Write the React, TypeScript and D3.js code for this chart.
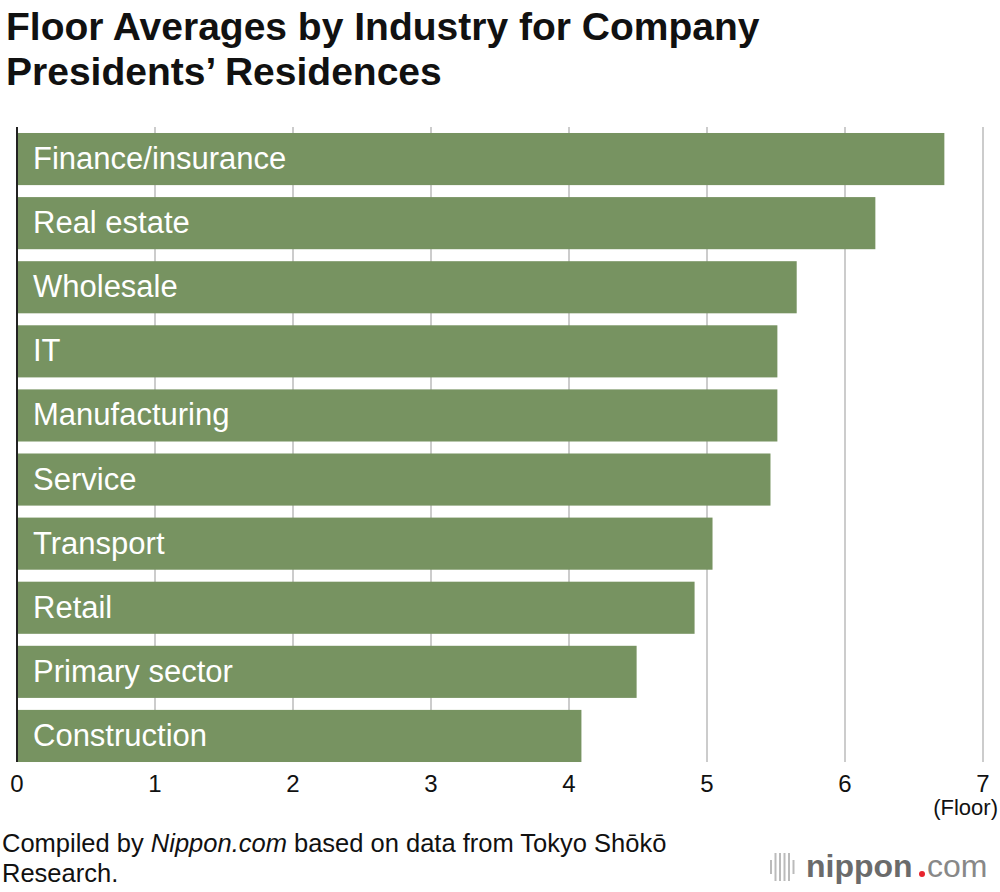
import React from "react";
import * as d3 from "d3";

const industries = ["Finance/insurance", "Real estate", "Wholesale", "IT", "Manufacturing", "Service", "Transport", "Retail", "Primary sector", "Construction"];
const floors = [6.72, 6.22, 5.65, 5.51, 5.51, 5.46, 5.04, 4.91, 4.49, 4.09];
const ticks = [0, 1, 2, 3, 4, 5, 6, 7];

const W = 1000, H = 892;
const FONT = "Liberation Sans, Arial, sans-serif";

export default function App() {
  const x = d3.scaleLinear().domain([0, 7]).range([17, 983]);
  const y = d3.scaleBand().domain(industries).range([127, 768]).paddingInner(0.187).paddingOuter(0.0935);
  const bottom = 762;
  return (
    <svg width={W} height={H} style={{ position: "absolute", left: 0, top: 0 }} fontFamily={FONT}>
      <rect width={W} height={H} fill="#fff" />
      <text x={6} y={40} fontSize={39} fontWeight="bold" fill="#111">Floor Averages by Industry for Company</text>
      <text x={6} y={85} fontSize={39} fontWeight="bold" fill="#111">Presidents’ Residences</text>
      {ticks.slice(1).map(t => (
        <line key={t} x1={x(t)} x2={x(t)} y1={127} y2={bottom} stroke="#ccc" strokeWidth={2} />
      ))}
      {industries.map((c, i) => (
        <g key={c}>
          <rect x={x(0)} y={y(c)!} width={x(floors[i]) - x(0)} height={y.bandwidth()} fill="#779361" />
          <text x={33} y={y(c)! + y.bandwidth() / 2 + 10} fontSize={31} fill="#fff">{c}</text>
        </g>
      ))}
      <line x1={x(0)} x2={x(0)} y1={127} y2={bottom} stroke="#222" strokeWidth={2} />
      {ticks.map(t => (
        <text key={t} x={x(t)} y={792} fontSize={24} textAnchor="middle" fill="#111">{t}</text>
      ))}
      <text x={998} y={815} fontSize={22} textAnchor="end" fill="#111">(Floor)</text>
      <text x={2} y={852} fontSize={25.5} fill="#111">Compiled by <tspan fontStyle="italic">Nippon.com</tspan> based on data from Tokyo Shōkō</text>
      <text x={2} y={882} fontSize={25.5} fill="#111">Research.</text>
      <g fill="#bbb">
        {[0, 1, 2, 3, 4, 5].map(i => (
          <rect key={i} x={770 + i * 4.5} y={i === 0 || i === 5 ? 860 : 853} width={2} height={i === 0 || i === 5 ? 14 : 28} />
        ))}
      </g>
      <text x={806} y={877} fontSize={32} fontWeight="bold" fill="#6b6b6b">nippon</text>
      <circle cx={922} cy={874} r={3} fill="#e8242d" />
      <text x={927} y={877} fontSize={32} fill="#888">com</text>
    </svg>
  );
}
